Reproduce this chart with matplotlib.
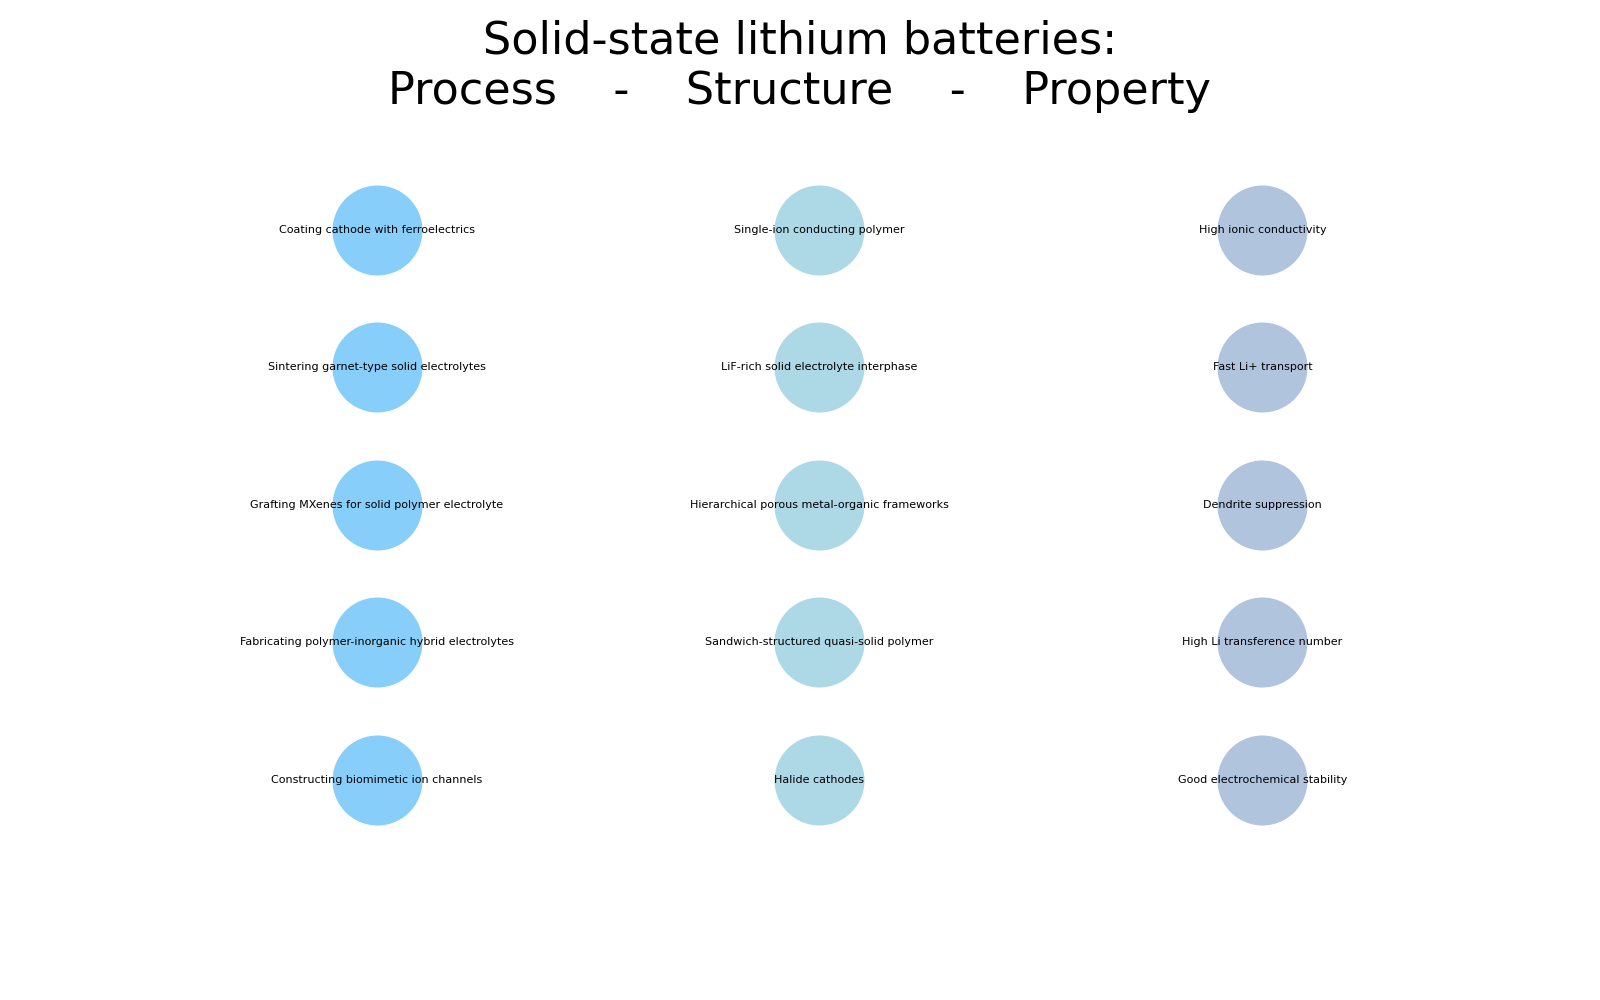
import matplotlib
matplotlib.use("Agg")
import matplotlib.pyplot as plt

process = ["Coating cathode with ferroelectrics",
           "Sintering garnet-type solid electrolytes",
           "Grafting MXenes for solid polymer electrolyte",
           "Fabricating polymer-inorganic hybrid electrolytes",
           "Constructing biomimetic ion channels"]
structure = ["Single-ion conducting polymer",
             "LiF-rich solid electrolyte interphase",
             "Hierarchical porous metal-organic frameworks",
             "Sandwich-structured quasi-solid polymer",
             "Halide cathodes"]
prop = ["High ionic conductivity",
        "Fast Li+ transport",
        "Dendrite suppression",
        "High Li transference number",
        "Good electrochemical stability"]
columns = [process, structure, prop]
colors = ["lightskyblue", "lightblue", "lightsteelblue"]

fig = plt.figure(figsize=(16, 10), dpi=100)
ax = fig.add_axes([0, 0, 1, 1])

for col, (labels, c) in enumerate(zip(columns, colors)):
    xs = [col] * len(labels)
    ys = list(range(len(labels)))
    ax.scatter(xs, ys, s=4200, color=c, linewidths=0, zorder=2)
    for x, y, lab in zip(xs, ys, labels):
        ax.text(x, y, lab, ha="center", va="center", fontsize=8, zorder=3)

ax.set_xlim(-0.850, 2.762)
ax.set_ylim(5.603, -1.670)
ax.axis("off")

fig.text(0.5, 0.980, "Solid-state lithium batteries:\nProcess    -    Structure    -    Property",
         ha="center", va="top", fontsize=32, linespacing=1.22)

fig.savefig("out.png", dpi=100)
